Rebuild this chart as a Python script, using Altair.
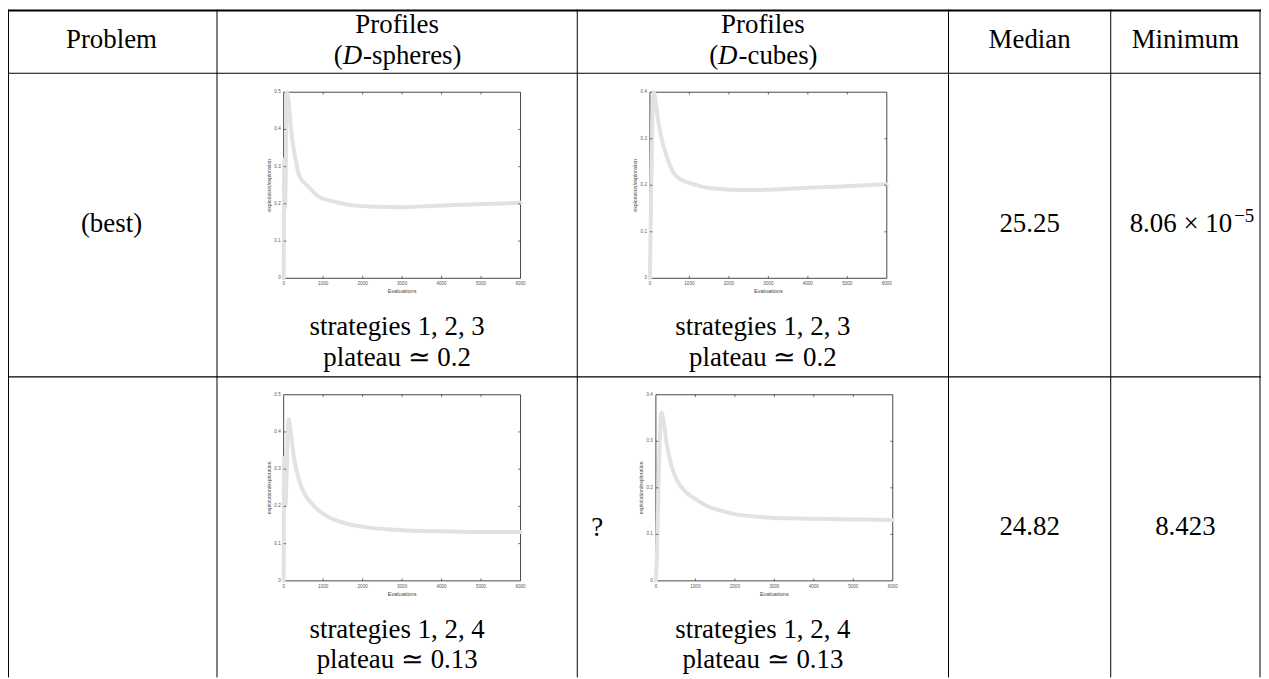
import altair as alt
import pandas as pd

# ---------------- data ----------------
header_problem = "Problem"
header_profiles = "Profiles"
header_median = "Median"
header_minimum = "Minimum"
profile_kinds = ["-spheres)", "-cubes)"]
problem_labels = ["(best)", ""]
median_values = ["25.25", "24.82"]
minimum_main = ["8.06 × 10", "8.423"]
minimum_exp = ["−5", ""]
caption_strategies = ["strategies 1, 2, 3", "strategies 1, 2, 4"]
caption_plateau = ["plateau ≃ 0.2", "plateau ≃ 0.13"]
row2_marker = "?"
x_title = "Evaluations"
y_title = "exploitation/exploration"
x_ticks = [0, 1000, 2000, 3000, 4000, 5000, 6000]
y_ticks_05 = [0, 0.1, 0.2, 0.3, 0.4, 0.5]
y_ticks_04 = [0, 0.1, 0.2, 0.3, 0.4]

evals_sph_1 = [0, 15, 35, 85, 130, 170, 212, 300, 381, 450, 550, 678, 847, 1017, 1314, 1737, 2161, 3008, 3856, 4703, 6000]
ratio_sph_1 = [0, 0.32, 0.19, 0.50, 0.47, 0.42, 0.378, 0.32, 0.28, 0.265, 0.254, 0.24, 0.222, 0.213, 0.205, 0.196, 0.193, 0.191, 0.195, 0.198, 0.203]

evals_cub_1 = [0, 20, 60, 100, 150, 225, 325, 433, 600, 767, 1000, 1433, 1767, 2300, 2850, 3850, 4700, 5433, 6000]
ratio_cub_1 = [0, 0.12, 0.33, 0.40, 0.375, 0.33, 0.29, 0.26, 0.227, 0.213, 0.205, 0.195, 0.192, 0.19, 0.19, 0.194, 0.197, 0.200, 0.202]

evals_sph_2 = [0, 10, 40, 127, 180, 254, 381, 551, 720, 1000, 1314, 1737, 2161, 3008, 3856, 5000, 6000]
ratio_sph_2 = [0, 0.33, 0.2, 0.434, 0.40, 0.336, 0.274, 0.23, 0.207, 0.18, 0.163, 0.15, 0.143, 0.136, 0.133, 0.131, 0.131]

evals_cub_2 = [0, 25, 70, 142, 200, 267, 392, 517, 767, 1000, 1267, 1600, 1975, 2683, 3683, 5267, 6000]
ratio_cub_2 = [0, 0.05, 0.22, 0.362, 0.34, 0.298, 0.248, 0.219, 0.19, 0.176, 0.162, 0.152, 0.144, 0.137, 0.134, 0.132, 0.131]

# ---------------- layout (page pixels) ----------------
OFF = 8
W, H = 1259, 671
SERIF = "Liberation Serif"
SANS = "Liberation Sans"
FS = 27

def P(v):
    return v - OFF

layers = []

def txt(s, x, y, size=FS, italic=False, align="center"):
    layers.append(
        alt.Chart(pd.DataFrame({"t": [s]})).mark_text(
            font=SERIF, fontSize=size, fontStyle="italic" if italic else "normal",
            align=align, baseline="alphabetic", color="black"
        ).encode(x=alt.value(P(x)), y=alt.value(P(y)), text="t:N")
    )

def hline(y, x1, x2, w):
    layers.append(
        alt.Chart(pd.DataFrame({"a": [0]})).mark_rule(color="black", strokeWidth=w).encode(
            x=alt.value(max(P(x1), 0)), x2=alt.value(min(P(x2), W)), y=alt.value(max(P(y), w / 2))
        )
    )

def vline(x, y1, y2, w):
    layers.append(
        alt.Chart(pd.DataFrame({"a": [0]})).mark_rule(color="black", strokeWidth=w).encode(
            x=alt.value(max(P(x), w / 2)), y=alt.value(max(P(y1), 0)), y2=alt.value(min(P(y2), H))
        )
    )

# table lines
col_x = [5.5, 218, 580, 953, 1116, 1266]
hline(7, 5, 1267, 1.8)
hline(72, 5, 1267, 1.1)
hline(377, 5, 1267, 1.1)
for cx in col_x:
    vline(cx, 7, 690, 1.0)

# header
txt(header_problem, 112, 47)
txt(header_median, 1034.5, 47)
txt(header_minimum, 1191, 47)
for cx, kind, rest_em in [(399, profile_kinds[0], 3.665), (766.5, profile_kinds[1], 2.943)]:
    txt(header_profiles, cx, 32)
    wp, wd, wr = 0.333 * FS, 0.722 * FS, rest_em * FS
    start = cx - (wp + wd + wr) / 2
    txt("(", start, 63, align="left")
    txt("D", start + wp, 63, italic=True, align="left")
    txt(kind, start + wp + wd + 1, 63, align="left")

# row cells
row_base = [231, 536]
cap_base = [(335, 366), (639, 670)]
for i in range(2):
    if problem_labels[i]:
        txt(problem_labels[i], 112, row_base[i])
    txt(median_values[i], 1034.5, row_base[i])
    if minimum_exp[i]:
        txt(minimum_main[i], 1238, row_base[i], align="right")
        txt(minimum_exp[i], 1240, row_base[i] - 10, size=19, align="left")
    else:
        txt(minimum_main[i], 1191, row_base[i])
    for cx in (399, 766.5):
        txt(caption_strategies[i], cx, cap_base[i][0])
        txt(caption_plateau[i], cx, cap_base[i][1])
txt(row2_marker, 600, 537)


# ---------------- mini charts ----------------
def mini(evals, ratio, yticks, left, top, w=238, h=187):
    ymax = yticks[-1]
    x0, x1 = P(left), P(left) + w
    y1, y0 = P(top), P(top) + h
    xs = alt.Scale(domain=[0, 6000], range=[x0, x1], nice=False, zero=False)
    ys = alt.Scale(domain=[0, ymax], range=[y0, y1], nice=False, zero=False)
    X = lambda f: alt.X(f, scale=xs, axis=None)
    Y = lambda f: alt.Y(f, scale=ys, axis=None)

    frame = alt.Chart(pd.DataFrame({"a": [0], "b": [6000], "c": [0], "d": [ymax]})).mark_rect(
        fill="white", stroke="#1a1a1a", strokeWidth=0.8
    ).encode(x=X("a:Q"), x2="b:Q", y=Y("c:Q"), y2="d:Q")

    xt = pd.DataFrame({"t": x_ticks, "lo": 0, "hi": ymax,
                       "lab": [str(v) for v in x_ticks]})
    yt = pd.DataFrame({"t": yticks, "lo": 0, "hi": 6000,
                       "lab": [("%g" % v) for v in yticks]})
    xti, yti = xt.iloc[1:-1], yt.iloc[1:-1]
    tick_style = dict(color="#1a1a1a", strokeWidth=0.6)
    t_top = alt.Chart(xti).mark_rule(y2Offset=2.5, **tick_style).encode(
        x=X("t:Q"), y=Y("hi:Q"), y2="hi:Q")
    t_bot = alt.Chart(xti).mark_rule(y2Offset=-2.5, **tick_style).encode(
        x=X("t:Q"), y=Y("lo:Q"), y2="lo:Q")
    t_left = alt.Chart(yti).mark_rule(x2Offset=2.5, **tick_style).encode(
        y=Y("t:Q"), x=X("lo:Q"), x2="lo:Q")
    t_right = alt.Chart(yti).mark_rule(x2Offset=-2.5, **tick_style).encode(
        y=Y("t:Q"), x=X("hi:Q"), x2="hi:Q")

    lab_style = dict(font=SANS, fontSize=4.6, color="#555")
    xlab = alt.Chart(xt).mark_text(baseline="top", align="center", dy=3, **lab_style).encode(
        x=X("t:Q"), y=Y("lo:Q"), text="lab:N")
    ylab = alt.Chart(yt).mark_text(baseline="middle", align="right", dx=-3, **lab_style).encode(
        x=X("lo:Q"), y=Y("t:Q"), text="lab:N")
    xtit = alt.Chart(pd.DataFrame({"t": [x_title], "xm": [3000], "lo": [0]})).mark_text(
        baseline="top", align="center", dy=11, font=SANS, fontSize=5.6, color="#444"
    ).encode(x=X("xm:Q"), y=Y("lo:Q"), text="t:N")
    ytit = alt.Chart(pd.DataFrame({"t": [y_title], "ym": [ymax / 2], "lo": [0]})).mark_text(
        baseline="bottom", align="center", angle=270, dy=-12, font=SANS, fontSize=5.2, color="#444"
    ).encode(x=X("lo:Q"), y=Y("ym:Q"), text="t:N")

    line = alt.Chart(pd.DataFrame({"e": evals, "r": ratio})).mark_line(
        color="#e2e2e2", strokeWidth=4, interpolate="monotone", strokeCap="round", strokeJoin="round"
    ).encode(x=X("e:Q"), y=Y("r:Q"))
    return alt.layer(frame, line, t_top, t_bot, t_left, t_right, xlab, ylab, xtit, ytit)


minis = [
    mini(evals_sph_1, ratio_sph_1, y_ticks_05, 285, 91),
    mini(evals_cub_1, ratio_cub_1, y_ticks_04, 653, 91),
    mini(evals_sph_2, ratio_sph_2, y_ticks_05, 285, 395),
    mini(evals_cub_2, ratio_cub_2, y_ticks_04, 659, 395),
]

chart = alt.layer(*layers, *minis).resolve_scale(x="independent", y="independent").properties(
    width=W, height=H, autosize=alt.AutoSizeParams(type="none"), padding=0, background="white"
).configure_view(stroke=None)

chart.save("out.html", embed_options={"renderer": "svg", "actions": False})
